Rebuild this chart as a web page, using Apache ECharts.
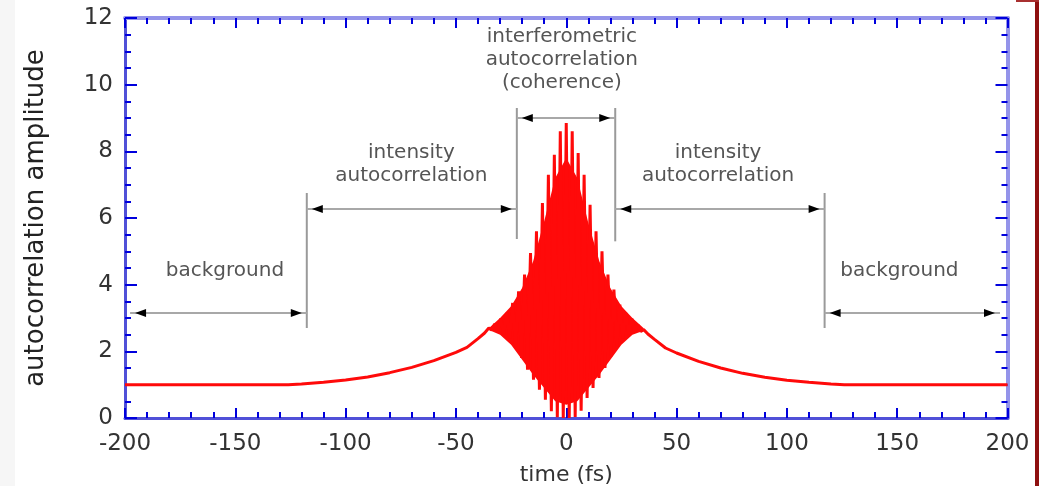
<!DOCTYPE html>
<html><head><meta charset="utf-8">
<script src="https://cdn.jsdelivr.net/npm/echarts@6/dist/echarts.min.js"></script>
<style>html,body{margin:0;padding:0;background:#fff;} #c{width:1039px;height:486px;}</style>
</head><body><div id="c"></div>
<script>
// ---- data ----
const xTicks = [-200, -150, -100, -50, 0, 50, 100, 150, 200];
const yTicks = [0, 2, 4, 6, 8, 10, 12];

// smooth intensity-autocorrelation part (time fs, amplitude)
const smoothLeft = [[-200,1.0],[-180,1.0],[-160,1.0],[-140,1.0],[-126,1.0],[-120,1.02],[-110,1.07],[-100,1.14],[-90,1.23],[-80,1.36],[-70,1.52],[-60,1.72],[-50,1.97],[-45,2.12],[-40,2.38],[-37,2.55]];
const smoothRight = [[37,2.52],[40,2.36],[45,2.1],[50,1.95],[60,1.7],[70,1.5],[80,1.34],[90,1.22],[100,1.13],[110,1.07],[120,1.02],[126,1.0],[140,1.0],[160,1.0],[180,1.0],[200,1.0]];

// interferometric fringes: alternating maxima / minima
const fringes = [
  [-35.1,2.70],[-33.75,2.64],[-32.4,2.82],[-31.05,2.60],[-29.7,2.98],[-28.35,2.52],
  [-27.0,3.15],[-25.65,2.40],[-24.3,3.45],[-22.95,2.15],[-21.6,3.80],[-20.25,1.80],
  [-18.9,4.30],[-17.55,1.45],[-16.2,4.95],[-14.85,1.15],[-13.5,5.60],[-12.15,0.85],
  [-10.8,6.45],[-9.45,0.55],[-8.1,7.30],[-6.75,0.20],[-5.4,7.90],[-4.05,0.02],
  [-2.7,8.60],[-1.35,0.00],[0,8.85],[1.35,0.00],[2.7,8.60],[4.05,0.03],
  [5.4,7.95],[6.75,0.22],[8.1,7.30],[9.45,0.60],[10.8,6.40],[12.15,0.90],
  [13.5,5.60],[14.85,1.20],[16.2,5.00],[17.55,1.50],[18.9,4.30],[20.25,1.85],
  [21.6,3.85],[22.95,2.15],[24.3,3.40],[25.65,2.40],[27.0,3.15],[28.35,2.52],
  [29.7,2.98],[31.05,2.58],[32.4,2.80],[33.75,2.60],[35.1,2.65]
];
// solid core of the fringe region
const coreT  = [-35,-30,-25,-20,-15,-10,-5,0,5,10,15,20,25,30,35];
const coreHi = [2.70,3.00,3.35,3.90,4.70,5.90,7.20,7.80,7.20,5.85,4.70,3.90,3.35,3.00,2.70];
const coreLo = [2.64,2.50,2.20,1.75,1.30,0.90,0.50,0.40,0.50,0.90,1.30,1.75,2.20,2.50,2.62];

// annotation marker lines: [time, from amplitude, to amplitude]
const vLines = [[-117.6,2.7,6.75],[-22.4,5.37,9.3],[22.2,5.3,9.3],[117.1,2.7,6.75]];
// double arrows: [from time, to time, amplitude]
const arrows = [[-197.7,-117.6,3.15],[-117.6,-22.4,6.27],[-22.4,22.2,9.0],[22.2,117.1,6.27],[117.1,196.6,3.15]];
// annotation texts: [time, amplitude, text]
const notes = [
  [-154.7,4.41,'background'],
  [-70.2,7.97,'intensity'],[-70.2,7.26,'autocorrelation'],
  [-2,11.43,'interferometric'],[-2,10.75,'autocorrelation'],[-2,10.05,'(coherence)'],
  [68.8,7.97,'intensity'],[68.8,7.26,'autocorrelation'],
  [151,4.41,'background']
];

const chart = echarts.init(document.getElementById('c'), null, {renderer:'canvas'});
const FONT = 'DejaVu Sans';
const tickCol = '#0000dd';
function xAx(pos, show) {
  return {type:'value', min:xTicks[0], max:xTicks[xTicks.length-1], interval:50, position:pos,
    axisLine:{onZero:false, lineStyle:{color: show ? '#5050d8' : '#9494ea', width: show ? 3 : 4}},
    axisTick:{inside:true, length:10, lineStyle:{color:tickCol, width:2}},
    minorTick:{show:true, splitNumber:5, length:6, lineStyle:{color:tickCol, width:2}},
    splitLine:{show:false}, minorSplitLine:{show:false},
    axisLabel:{show:show, fontFamily:FONT, fontSize:23, color:'#333', margin:15},
    name: show ? 'time (fs)' : '', nameLocation:'middle', nameGap:46,
    nameTextStyle:{fontFamily:FONT, fontSize:22, color:'#333'}};
}
function yAx(pos, show) {
  return {type:'value', min:yTicks[0], max:yTicks[yTicks.length-1], interval:2, position:pos,
    axisLine:{onZero:false, lineStyle:{color: show ? '#5050d8' : '#9494ea', width: show ? 3 : 4}},
    axisTick:{inside:true, length:12, lineStyle:{color:tickCol, width:2}},
    minorTick:{show:true, splitNumber:4, length:6, lineStyle:{color:tickCol, width:2}},
    splitLine:{show:false}, minorSplitLine:{show:false},
    axisLabel:{show:show, fontFamily:FONT, fontSize:23, color:'#333', margin:12},
    name: show ? 'autocorrelation amplitude' : '', nameLocation:'middle', nameGap:76,
    nameTextStyle:{fontFamily:FONT, fontSize:26, color:'#222'}};
}
const curve = smoothLeft.concat(fringes, smoothRight);
const RED = '#ff0a0a';
const option = {
  animation:false,
  backgroundColor:'#ffffff',
  grid:{left:125, right:31.5, top:18, bottom:68, containLabel:false, outerBoundsMode:'none'},
  xAxis:[xAx('bottom', true), xAx('top', false)],
  yAxis:[yAx('left', true), yAx('right', false)],
  graphic:[
    {type:'rect', shape:{x:0,y:0,width:15,height:486}, style:{fill:'#f6f6f6'}, z:-1},
    {type:'rect', shape:{x:1035,y:0,width:4,height:486}, style:{fill:'#8e1010'}},
    {type:'rect', shape:{x:1016,y:0,width:23,height:2}, style:{fill:'#a83030'}}
  ],
  series:[
    {type:'custom', xAxisIndex:0, yAxisIndex:0, clip:false, z:2, data:[[0,0]],
      renderItem:function(params, api){
        const pts = [];
        for (let i=0;i<coreT.length;i++) pts.push(api.coord([coreT[i], coreHi[i]]));
        for (let i=coreT.length-1;i>=0;i--) pts.push(api.coord([coreT[i], coreLo[i]]));
        return {type:'polygon', shape:{points:pts}, style:{fill:RED}};
      }},
    {type:'line', xAxisIndex:0, yAxisIndex:0, data:curve, showSymbol:false, z:3,
      lineStyle:{color:RED, width:3}, itemStyle:{color:RED}},
    {type:'custom', xAxisIndex:0, yAxisIndex:0, clip:false, z:4, data:vLines,
      renderItem:function(params, api){
        const v = vLines[params.dataIndex];
        const a = api.coord([v[0], v[1]]), b = api.coord([v[0], v[2]]);
        return {type:'line', shape:{x1:a[0],y1:a[1],x2:b[0],y2:b[1]}, style:{stroke:'#9a9a9a', lineWidth:2}};
      }},
    {type:'custom', xAxisIndex:0, yAxisIndex:0, clip:false, z:4, data:arrows,
      renderItem:function(params, api){
        const r = arrows[params.dataIndex];
        const a = api.coord([r[0], r[2]]), b = api.coord([r[1], r[2]]);
        const y = a[1];
        return {type:'group', children:[
          {type:'line', shape:{x1:a[0],y1:y,x2:b[0],y2:y}, style:{stroke:'#a8a8a8', lineWidth:2}},
          {type:'polygon', shape:{points:[[a[0]+5,y],[a[0]+16,y-4],[a[0]+16,y+4]]}, style:{fill:'#000'}},
          {type:'polygon', shape:{points:[[b[0]-5,y],[b[0]-16,y-4],[b[0]-16,y+4]]}, style:{fill:'#000'}}
        ]};
      }},
    {type:'custom', xAxisIndex:0, yAxisIndex:0, clip:false, z:5, data:notes.map(n=>[n[0],n[1]]),
      renderItem:function(params, api){
        const n = notes[params.dataIndex];
        const p = api.coord([n[0], n[1]]);
        return {type:'text', x:p[0], y:p[1], style:{text:n[2], fontFamily:FONT, fontSize:20, fill:'#555', align:'center', verticalAlign:'middle'}};
      }}
  ]
};
chart.setOption(option);
</script></body></html>
